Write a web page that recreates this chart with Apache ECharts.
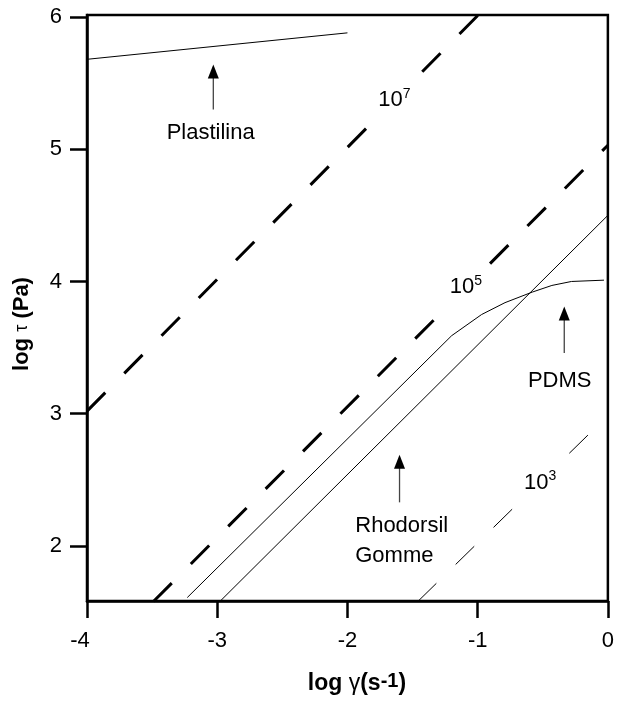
<!DOCTYPE html>
<html>
<head>
<meta charset="utf-8">
<script src="https://cdn.jsdelivr.net/npm/echarts@6/dist/echarts.min.js"></script>
<style>
    html, body { margin: 0; padding: 0; background: #fff; }
    #chart { width: 617px; height: 701px; }
</style>
</head>
<body>
<div id="chart"></div>
<script>
// axis ticks
var xTicks = [-4, -3, -2, -1, 0];
var yTicks = [2, 3, 4, 5, 6];

// newtonian lines, log tau = log eta + log gamma
var eta7 = [[-4, 3.02], [-0.99, 6.02]];
var eta5 = [[-3.49, 1.58], [0, 5.03]];
var eta3 = [[-1.46, 1.58], [-0.1, 2.89]];

// materials
var pdms = [[-3.23, 1.61], [-1.20, 3.59], [-0.97, 3.75], [-0.79, 3.84], [-0.58, 3.92], [-0.43, 3.97], [-0.28, 4.00], [-0.03, 4.01]];
var rhodorsil = [[-2.98, 1.58], [0, 4.50]];
var plastilina = [[-4, 5.68], [-2, 5.88]];

// arrows: x, tip, tail
var arrows = [[-3.03, 5.64, 5.30], [-0.335, 3.81, 3.46], [-1.60, 2.69, 2.33]];

// labels
var etaLabels = [['7', -1.64, 5.37], ['5', -1.09, 3.955], ['3', -0.52, 2.48]];
var nameLabels = [['Plastilina', -3.05, 5.12, 'center'], ['PDMS', -0.37, 3.25, 'center'], ['Rhodorsil\nGomme', -1.94, 2.04, 'left']];

var FONT = "'Liberation Sans', Arial, sans-serif";

window.RheoChart = function () {
    var chartDom = document.getElementById('chart');
    var myChart = echarts.init(chartDom);
    var option;

    function dashed(data, w) {
        return {
            type: 'line',
            data: data,
            symbol: 'none',
            lineStyle: { color: '#000', width: w, type: [26, 27] },
            z: 2
        };
    }
    function solid(data) {
        return {
            type: 'line',
            data: data,
            symbol: 'none',
            lineStyle: { color: '#000', width: 1 },
            z: 2
        };
    }

    option = {
        animation: false,
        backgroundColor: '#fff',
        grid: {
            left: 87,
            right: 8,
            top: 15,
            bottom: 100,
            show: true,
            borderColor: '#000',
            borderWidth: 2.5
        },
        xAxis: {
            type: 'value',
            min: -4,
            max: 0,
            interval: 1,
            name: '{b|log }{g|γ}{b|(s}{s|-1}{b|)}',
            nameLocation: 'middle',
            nameGap: 70,
            nameTextStyle: {
                padding: [0, 0, 0, 19],
                rich: {
                    b: { fontSize: 23, fontWeight: 'bold', fontFamily: FONT, color: '#000', lineHeight: 26 },
                    g: { fontSize: 23, fontFamily: FONT, color: '#000', lineHeight: 26 },
                    s: { fontSize: 20, fontWeight: 'bold', fontFamily: FONT, color: '#000', lineHeight: 12, verticalAlign: 'top' }
                }
            },
            axisLine: { show: true, onZero: false, lineStyle: { color: '#000', width: 2.5 } },
            axisTick: { show: true, length: 17, lineStyle: { color: '#000', width: 2.5 } },
            axisLabel: {
                margin: 29,
                fontSize: 22,
                fontFamily: FONT,
                color: '#000',
                formatter: function (v) {
                    return v === xTicks[0] ? '{m|' + v + '}' : String(v);
                },
                rich: {
                    m: { fontSize: 22, fontFamily: FONT, color: '#000', padding: [0, 14, 0, 0] }
                }
            },
            splitLine: { show: false }
        },
        yAxis: {
            type: 'value',
            min: 1.584,
            max: 6.015,
            name: '{b|log }{t|τ}{b| (Pa)}',
            nameLocation: 'middle',
            nameRotate: 90,
            nameGap: 53,
            nameTextStyle: {
                padding: [0, 32, 0, 0],
                rich: {
                    b: { fontSize: 22, fontWeight: 'bold', fontFamily: FONT, color: '#000', lineHeight: 24 },
                    t: { fontSize: 18, fontFamily: FONT, color: '#000', lineHeight: 24 }
                }
            },
            axisLine: { show: true, onZero: false, lineStyle: { color: '#000', width: 2.5 } },
            axisTick: { show: true, length: 17, customValues: yTicks, lineStyle: { color: '#000', width: 2.5 } },
            axisLabel: { margin: 25, fontSize: 22, fontFamily: FONT, color: '#000', customValues: yTicks },
            splitLine: { show: false }
        },
        series: [
            dashed(eta7, 3),
            dashed(eta5, 3),
            dashed(eta3, 1),
            solid(pdms),
            solid(rhodorsil),
            solid(plastilina),
            {
                type: 'custom',
                data: arrows,
                encode: { x: 0, y: [1, 2] },
                z: 4,
                renderItem: function (params, api) {
                    var tip = api.coord([api.value(0), api.value(1)]);
                    var tail = api.coord([api.value(0), api.value(2)]);
                    var headLen = 14, headHalf = 5.5;
                    return {
                        type: 'group',
                        children: [
                            {
                                type: 'line',
                                shape: { x1: tail[0], y1: tail[1], x2: tip[0], y2: tip[1] + headLen - 1 },
                                style: { stroke: '#444', lineWidth: 1.3 }
                            },
                            {
                                type: 'polygon',
                                shape: { points: [[tip[0], tip[1]], [tip[0] - headHalf, tip[1] + headLen], [tip[0] + headHalf, tip[1] + headLen]] },
                                style: { fill: '#000' }
                            }
                        ]
                    };
                }
            },
            {
                type: 'scatter',
                symbolSize: 1,
                itemStyle: { color: 'rgba(0,0,0,0)', opacity: 1 },
                z: 5,
                data: etaLabels.map(function (d) {
                    return { value: [d[1], d[2]], sup: d[0] };
                }),
                label: {
                    show: true,
                    position: 'inside',
                    backgroundColor: '#fff',
                    padding: [3, 4],
                    formatter: function (p) {
                        return '{n|10}{s|' + p.data.sup + '}';
                    },
                    rich: {
                        n: { fontSize: 22, fontFamily: FONT, color: '#000', lineHeight: 26 },
                        s: { fontSize: 14, fontFamily: FONT, color: '#000', lineHeight: 14, verticalAlign: 'top' }
                    }
                }
            },
            {
                type: 'scatter',
                symbolSize: 1,
                itemStyle: { color: 'rgba(0,0,0,0)', opacity: 1 },
                z: 5,
                data: nameLabels.map(function (d) {
                    return {
                        value: [d[1], d[2]],
                        label: { formatter: d[0], align: d[3] }
                    };
                }),
                label: {
                    show: true,
                    position: 'inside',
                    verticalAlign: 'middle',
                    fontSize: 22,
                    lineHeight: 30,
                    fontFamily: FONT,
                    color: '#000'
                }
            }
        ]
    };

    option && myChart.setOption(option);
}

window.RheoChart();
</script>
</body>
</html>
